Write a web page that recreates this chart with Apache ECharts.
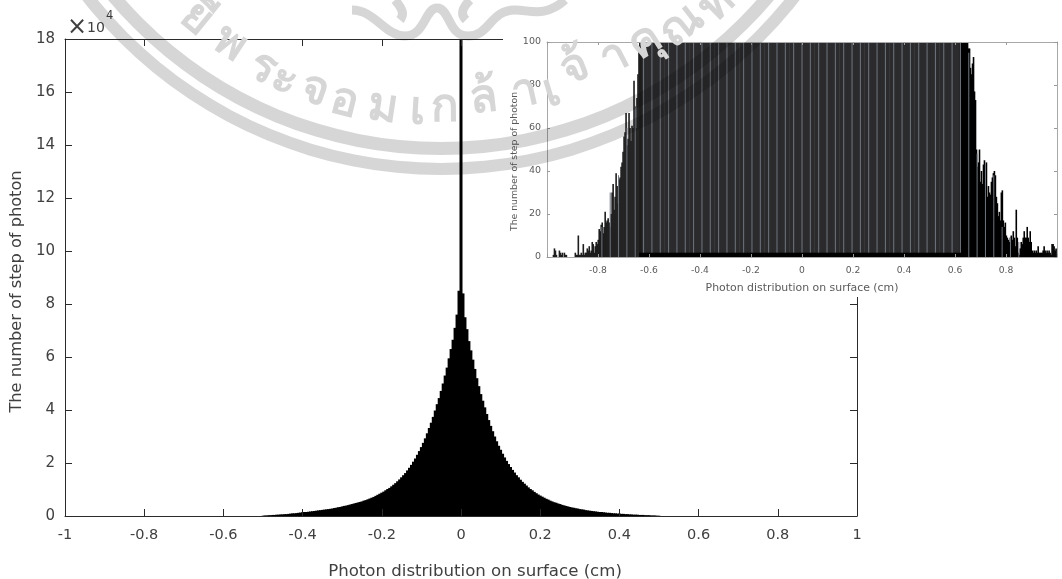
<!DOCTYPE html>
<html><head><meta charset="utf-8">
<style>html,body{margin:0;padding:0;background:#fff}#c{width:1062px;height:579px}</style>
<script src="https://cdn.jsdelivr.net/npm/echarts@6/dist/echarts.min.js"></script>
</head><body><div id="c"></div>
<script>
// ---- data ----
const mainTickStep = 0.2;
const mainBinStart = -0.5, mainBinStep = 0.005;
// main histogram, units of 10^4 steps, bins from -0.5 to 0.5
const mainLeft = [.01,.02,.02,.03,.03,.04,.04,.05,.05,.06,
 .06,.07,.07,.08,.09,.10,.10,.11,.12,.13,
 .14,.15,.15,.16,.17,.18,.19,.20,.21,.22,
 .23,.24,.25,.26,.27,.28,.30,.31,.33,.34,
 .36,.38,.39,.41,.43,.45,.47,.49,.51,.53,
 .55,.58,.60,.63,.66,.69,.72,.76,.80,.84,
 .88,.92,.97,1.02,1.06,1.12,1.18,1.24,1.31,1.38,
 1.46,1.54,1.62,1.72,1.82,1.93,2.05,2.17,2.31,2.45,
 2.6,2.76,2.93,3.12,3.32,3.52,3.74,3.98,4.22,4.45,
 4.72,5.0,5.3,5.6,5.95,6.3,6.65,7.1,7.6,8.5];
const mainCentre = [18];
const mainRight = [8.4,7.5,7.05,6.6,6.25,5.9,5.55,5.2,4.9,4.6,
 4.35,4.1,3.85,3.62,3.4,3.2,3.0,2.82,2.65,2.5,
 2.35,2.21,2.08,1.96,1.85,1.74,1.64,1.54,1.46,1.37,
 1.29,1.22,1.15,1.08,1.02,.97,.91,.86,.81,.77,
 .73,.69,.65,.62,.58,.55,.52,.5,.47,.45,
 .42,.4,.38,.36,.34,.32,.31,.29,.28,.26,
 .25,.24,.22,.21,.2,.19,.18,.17,.16,.15,
 .15,.14,.13,.12,.12,.11,.10,.10,.09,.09,
 .08,.08,.07,.07,.06,.06,.05,.05,.05,.04,
 .04,.04,.03,.03,.03,.02,.02,.02,.01,.01];

// inset: left tail, bins from -1 upward
const tailStep = 0.0039;
const insetLeftTail = [0,0,0,0,0,0,1,4,3,1,0,0,3,2,1,2,0,2,1,1,0,0,0,0,0,0,0,0,2,1,
 1,10,1,1,2,1,6,1,2,2,4,3,5,2,3,7,6,2,5,7,6,8,13,12,15,16,11,14,21,16,
 17,18,16,14,20,30,34,22,28,39,33,25,36,37,42,44,49,56,58,67,52,55,67,60,54,61,60,82,70,60,
 74,85,98,104,110];
// inset: right tail, bins from 0.62 upward
const rightTailStart = 0.62;
const insetRightTail = [130,125,122,118,115,112,108,104,97,97,88,85,90,93,77,73,50,42,44,50,
 35,40,34,43,45,33,44,28,33,30,29,35,37,39,40,38,28,25,19,21,
 17,30,31,17,14,16,10,9,8,7,9,10,8,12,9,5,22,9,2,1,
 4,7,6,9,12,9,9,14,9,7,12,7,3,2,3,2,3,2,5,2,
 2,2,2,3,5,3,2,3,2,3,2,1,6,6,5,3,4];
// inset: central block, wide bins k=-19..19
const blockStep = 0.0327;
const insetCentre = [108,125,150,180,220,520,950,1500,2100,2600,3800,5000,6800,9200,12500,18500,26500,39800,58000,
 180000,
 58000,39800,26500,18500,12500,9200,6800,5000,3800,2600,2100,1500,950,520,220,180,150,125,108];
const insetBaseline = [2,2,2,2,2,2,2,2,2,2,2,2,2,2,2,2,2,2,2,2,2,2,2,2,2,2,2,2,2,2,2,2,2,2,2,2,2,2,2];
// inset: pale vertical lines, k=-24..26
const stripeHeights = [14,30,38,60,70,100,100,100,100,100,100,100,100,100,100,100,100,100,100,100,100,100,100,100,100,
 100,100,100,100,100,100,100,100,100,100,100,100,100,100,100,100,100,100,100,95,48,43,38,14,9,7];

const xLabel = 'Photon distribution on surface (cm)';
const yLabel = 'The number of step of photon';
const multiplierSign = '×', multiplierBase = '10', multiplierExp = '4';

// ---- build ----
const FONT = 'DejaVu Sans';
const mainValues = mainLeft.concat(mainCentre, mainRight);
const mainData = mainValues.map((v,i)=>[mainBinStart + i*mainBinStep, v]);
const leftData = insetLeftTail.map((v,i)=>[-1 + (i+0.5)*tailStep, v]);
const rightData = insetRightTail.map((v,i)=>[rightTailStart + (i+0.5)*tailStep, v]);
const centreData = insetCentre.map((v,i)=>[(i-19)*blockStep, v]);
const baseData = insetBaseline.map((v,i)=>[(i-19)*blockStep, v]);
const stripeData = stripeHeights.map((v,i)=>[(i-24)*blockStep, v]);

const rectSeries = (name,data,color,z,widthFn)=>({
  name,type:'custom',xAxisIndex:2,yAxisIndex:2,data,z,silent:true,
  encode:{x:0,y:1},
  renderItem(params,api){
    const x=api.value(0),y=api.value(1);
    const w=widthFn(api);
    const a=api.coord([x,0]),b=api.coord([x,y]);
    const shape=echarts.graphic.clipRectByRect(
      {x:a[0]-w/2,y:b[1],width:w,height:a[1]-b[1]},
      {x:params.coordSys.x,y:params.coordSys.y,width:params.coordSys.width,height:params.coordSys.height});
    return shape&&{type:'rect',shape,style:{fill:color}};
  }
});

const fmtX = v => { const r=Math.round(v*10)/10; return String(r); };
const mainAxisLine = {lineStyle:{color:'#2b2b2b',width:1}};
const insetAxisLine = {lineStyle:{color:'#a8a8a8',width:1}};
function xa(grid,pos,labels,inset){
  return {type:'value',gridIndex:grid,position:pos,min:-1,max:1,interval:mainTickStep,z:inset?10:3,
    axisLine:Object.assign({show:true,onZero:false},inset?insetAxisLine:mainAxisLine),
    axisTick:{show:true,inside:true,length:inset?3:7,lineStyle:{color:inset?'#999':'#2b2b2b'}},
    splitLine:{show:false},
    axisLabel:{show:labels,margin:inset?9:12,color:inset?'#5a5a5a':'#404040',fontFamily:FONT,fontSize:inset?9.2:14.5,
      formatter:v=>{ if(inset&&Math.abs(v)>0.99) return ''; return fmtX(v); },showMinLabel:true,showMaxLabel:true},
    name:labels?xLabel:'',nameLocation:'middle',nameGap:inset?26:47,
    nameTextStyle:{color:inset?'#5a5a5a':'#404040',fontFamily:FONT,fontSize:inset?10.9:16.6,padding:inset?0:[0,0,0,28]}};
}
function ya(grid,pos,labels,inset){
  return {type:'value',gridIndex:grid,position:pos,min:0,max:inset?100:18,interval:inset?20:2,z:inset?10:3,
    axisLine:Object.assign({show:true,onZero:false},inset?insetAxisLine:mainAxisLine),
    axisTick:{show:true,inside:true,length:inset?3:7,lineStyle:{color:inset?'#999':'#2b2b2b'}},
    splitLine:{show:false},
    axisLabel:{show:labels,margin:inset?6:10,color:inset?'#5a5a5a':'#404040',fontFamily:FONT,fontSize:inset?9.5:15},
    name:labels?yLabel:'',nameLocation:'middle',nameGap:inset?28:38,
    nameTextStyle:{color:inset?'#5a5a5a':'#404040',fontFamily:FONT,fontSize:inset?9.3:16.2,padding:inset?[0,24,0,0]:[0,28,0,0]}};
}
const WM='#d6d6d6', RCX=441, RCY=-280;
const ring=(r0,r)=>({type:'ring',silent:true,z:50,shape:{cx:RCX,cy:RCY,r0,r},style:{fill:WM,blend:'multiply'}});
const curve=(x1,y1,cpx1,cpy1,cpx2,cpy2,x2,y2)=>({type:'bezierCurve',silent:true,z:50,shape:{x1,y1,cpx1,cpy1,cpx2,cpy2,x2,y2},style:{fill:null,stroke:WM,lineWidth:9,lineCap:'butt',blend:'multiply'}});
// seal lettering: cluster, x, y
const sealGlyphs=[['ยี',197,18],['พ',230,43],['ร',263,68],['ะ',285,80],['จ',315,90],['อ',345,102],['ม',383,107],['เ',418,110],['ก',445,108],['ล้',483,98],['า',525,92],['เ',552,92],['จ้',575,68],['า',615,57],['คุ',645,42],['ณ',682,25],['ท',717,4]];
const sealText=sealGlyphs.map(([t,x,y])=>({type:'text',silent:true,z:50,x,y,rotation:-Math.atan2(RCX-x,y-RCY),
  style:{text:t,fill:WM,font:'bold 46px "Noto Sans",sans-serif',textAlign:'center',textVerticalAlign:'middle',blend:'multiply'}}));

const chart=echarts.init(document.getElementById('c'),null,{renderer:'canvas'});
chart.setOption({
  animation:false,backgroundColor:'#fff',
  grid:[{left:65,right:205,top:39,bottom:63,outerBoundsMode:'none'},{left:547,right:5,top:42,bottom:322,outerBoundsMode:'none'}],
  xAxis:[xa(0,'bottom',true,false),xa(0,'top',false,false),xa(1,'bottom',true,true),xa(1,'top',false,true)],
  yAxis:[ya(0,'left',true,false),ya(0,'right',false,false),ya(1,'left',true,true),ya(1,'right',false,true)],
  series:[
    {name:'Photon steps',type:'bar',xAxisIndex:0,yAxisIndex:0,data:mainData,barWidth:3,z:2,silent:true,itemStyle:{color:'#000'}},
    rectSeries('Inset block',centreData,'#2b2b2d',6,api=>api.size([blockStep,0])[0]+0.5),
    {name:'Inset left tail',type:'bar',xAxisIndex:2,yAxisIndex:2,data:leftData,barWidth:1.6,barGap:'-100%',z:7,silent:true,itemStyle:{color:'#1d1d1d'}},
    {name:'Inset right tail',type:'bar',xAxisIndex:2,yAxisIndex:2,data:rightData,barWidth:1.6,barGap:'-100%',z:7,silent:true,itemStyle:{color:'#000'}},
    rectSeries('Inset lines',stripeData,'#70767f',8,()=>1),
    rectSeries('Inset baseline',baseData,'#000',9,api=>api.size([blockStep,0])[0]+0.5)
  ],
  graphic:{elements:[
    {type:'rect',silent:true,z:4,shape:{x:503,y:0,width:559,height:297},style:{fill:'#fff'}},
    ring(422,435),ring(443,455),
    curve(352,10,375,10,385,36,405,36),curve(405,36,425,36,425,8,437,8),curve(437,8,450,8,448,36,468,36),
    curve(468,36,490,36,490,10,515,10),curve(515,10,530,10,545,18,565,0),
    curve(395,0,402,8,405,14,400,20),curve(470,0,462,8,460,14,466,20),
    {type:'text',silent:true,z:20,x:67,y:28,style:{text:multiplierSign,fill:'#404040',font:'24px "DejaVu Sans"',textVerticalAlign:'middle'}},
    {type:'text',silent:true,z:20,x:87,y:28,style:{text:multiplierBase,fill:'#404040',font:'14px "DejaVu Sans"',textVerticalAlign:'middle'}},
    {type:'text',silent:true,z:20,x:106,y:16,style:{text:multiplierExp,fill:'#404040',font:'11.5px "DejaVu Sans"',textVerticalAlign:'middle'}}
  ].concat(sealText)}
});
</script></body></html>
